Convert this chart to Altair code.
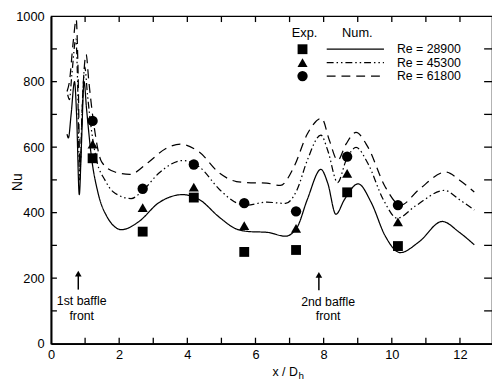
import altair as alt
import pandas as pd

FONT = "Liberation Sans"
SERIES = ["Re = 28900", "Re = 45300", "Re = 61800"]

# ---- experimental points ----
exp_x = [1.22, 2.69, 4.19, 5.67, 7.19, 8.69, 10.18]
exp_28900 = [566, 342, 446, 280, 286, 462, 298]
exp_45300 = [609, 415, 478, 360, 352, 520, 372]
exp_61800 = [680, 473, 547, 429, 404, 571, 423]

# ---- numerical curves ----
num_x_28900 = [0.47, 0.51, 0.59, 0.69, 0.75, 0.83, 0.89, 0.97, 1.04, 1.18, 1.38, 1.63, 2.07, 2.57, 3.16,
               3.86, 4.35, 4.95, 5.44, 5.84, 6.33, 6.88, 7.22, 7.52, 7.92, 8.12, 8.36, 8.61, 9.01, 9.40,
               9.80, 10.25, 10.79, 11.48, 11.98, 12.42]
num_y_28900 = [640, 628, 700, 800, 700, 455, 600, 800, 720, 575, 460, 390, 348, 372, 430,
               455, 440, 385, 350, 342, 340, 328, 355, 440, 532, 490, 395, 440, 488, 430,
               330, 278, 310, 373, 340, 302]

num_x_45300 = [0.49, 0.54, 0.61, 0.73, 0.78, 0.84, 0.91, 0.99, 1.07, 1.19, 1.34, 1.58, 1.83, 2.35, 2.67,
               3.16, 3.86, 4.35, 4.95, 5.44, 5.74, 6.33, 6.88, 7.22, 7.52, 7.92, 8.12, 8.41, 8.66, 8.95,
               9.30, 9.75, 10.16, 10.69, 11.55, 11.98, 12.42]
num_y_45300 = [760, 745, 820, 930, 800, 500, 700, 845, 760, 650, 559, 500, 463, 443, 465,
               520, 559, 540, 470, 430, 423, 432, 428, 470, 560, 637, 590, 492, 560, 599,
               550, 440, 383, 420, 468, 440, 408]

num_x_61800 = [0.47, 0.54, 0.65, 0.74, 0.79, 0.85, 0.93, 1.03, 1.11, 1.23, 1.49, 1.88, 2.31, 2.87, 3.36,
               3.80, 4.35, 4.95, 5.44, 5.74, 6.33, 6.73, 7.13, 7.52, 7.94, 8.17, 8.41, 8.66, 8.95, 9.30,
               9.80, 10.26, 10.79, 11.59, 11.98, 12.42]
num_y_61800 = [770, 800, 920, 990, 850, 530, 760, 883, 800, 690, 554, 524, 517, 555, 595,
               609, 585, 520, 495, 492, 490, 483, 540, 640, 688, 620, 560, 610, 645, 600,
               480, 423, 470, 524, 500, 463]

# ---- axes ----
x_labels = [0, 2, 4, 6, 8, 10, 12]
y_labels = [0, 200, 400, 600, 800, 1000]
x_minor = [1, 2, 3, 4, 5, 6, 7, 8, 9, 10, 11, 12]
y_minor = [100, 200, 300, 400, 500, 600, 700, 800, 900]

# ---- legend / annotations ----
leg_marker_x = 7.38
leg_line_x = [8.09, 9.77]
leg_text_x = 10.15
leg_rows = [899, 858, 817]
leg_head = [("Exp.", 7.44, 947), ("Num.", 8.99, 947)]
arrows = [(0.80, 165, 222), (7.86, 163, 218)]
notes = [("1st baffle", 0.90, 129), ("front", 0.90, 84),
         ("2nd baffle", 8.13, 126), ("front", 8.13, 84)]

W, H = 448, 332.7
XDOM = [0, 12.94]
YDOM = [0, 1000]

xs = alt.Scale(domain=XDOM, nice=False, zero=False)
ys = alt.Scale(domain=YDOM, nice=False)

dashes = {SERIES[0]: [1, 0], SERIES[1]: [7, 3, 1.5, 3, 1.5, 3], SERIES[2]: [9, 6]}

layers = []

# curves
curves = [(SERIES[0], num_x_28900, num_y_28900),
          (SERIES[1], num_x_45300, num_y_45300),
          (SERIES[2], num_x_61800, num_y_61800)]
for i, (name, cx, cy) in enumerate(curves):
    df = pd.DataFrame({"x": cx, "Nu": cy})
    enc = dict(
        x=alt.X("x:Q", scale=xs,
                axis=alt.Axis(values=x_labels, ticks=False, grid=False, domainWidth=2,
                              domainColor="black", labelFontSize=13, labelFont=FONT,
                              labelColor="black", labelPadding=5, labelFlush=False, title=None)),
        y=alt.Y("Nu:Q", scale=ys,
                axis=alt.Axis(values=y_labels, ticks=False, grid=False, domainWidth=2, format="d",
                              domainColor="black", labelFontSize=13, labelFont=FONT,
                              labelColor="black", labelPadding=7, title=None)),
    )
    line = alt.Chart(df).mark_line(color="black", strokeWidth=1.25, interpolate="monotone",
                                   strokeDash=dashes[name]).encode(**enc)
    layers.append(line)

# experimental points
pts = pd.DataFrame({
    "x": exp_x * 3,
    "Nu": exp_28900 + exp_45300 + exp_61800,
    "s": [SERIES[0]] * 7 + [SERIES[1]] * 7 + [SERIES[2]] * 7,
})
shape_scale = alt.Scale(domain=SERIES, range=["square", "triangle-up", "circle"])
size_scale = alt.Scale(domain=SERIES, range=[100, 110, 140])
layers.append(alt.Chart(pts).mark_point(filled=True, color="black", opacity=1).encode(
    x=alt.X("x:Q", scale=xs), y=alt.Y("Nu:Q", scale=ys),
    shape=alt.Shape("s:N", scale=shape_scale, legend=None),
    size=alt.Size("s:N", scale=size_scale, legend=None)))

# legend
leg_pts = pd.DataFrame({"x": [leg_marker_x] * 3, "Nu": leg_rows, "s": SERIES})
layers.append(alt.Chart(leg_pts).mark_point(filled=True, color="black", opacity=1).encode(
    x=alt.X("x:Q", scale=xs), y=alt.Y("Nu:Q", scale=ys),
    shape=alt.Shape("s:N", scale=shape_scale, legend=None),
    size=alt.Size("s:N", scale=size_scale, legend=None)))
for name, yv in zip(SERIES, leg_rows):
    ldf = pd.DataFrame({"x": leg_line_x, "Nu": [yv, yv]})
    layers.append(alt.Chart(ldf).mark_line(color="black", strokeWidth=1.25,
                                           strokeDash=dashes[name]).encode(
        x=alt.X("x:Q", scale=xs), y=alt.Y("Nu:Q", scale=ys)))
leg_txt = pd.DataFrame({"x": [leg_text_x] * 3, "Nu": leg_rows, "t": SERIES})
layers.append(alt.Chart(leg_txt).mark_text(align="left", baseline="middle", font=FONT,
                                           fontSize=12.5, color="black").encode(
    x=alt.X("x:Q", scale=xs), y=alt.Y("Nu:Q", scale=ys), text="t:N"))
head = pd.DataFrame({"t": [h[0] for h in leg_head], "x": [h[1] for h in leg_head],
                     "Nu": [h[2] for h in leg_head]})
layers.append(alt.Chart(head).mark_text(align="center", baseline="middle", font=FONT,
                                        fontSize=13, color="black").encode(
    x=alt.X("x:Q", scale=xs), y=alt.Y("Nu:Q", scale=ys), text="t:N"))

# annotations: arrows + text
arr = pd.DataFrame({"x": [a[0] for a in arrows], "y0": [a[1] for a in arrows],
                    "y1": [a[2] - 12 for a in arrows], "tip": [a[2] - 8 for a in arrows]})
layers.append(alt.Chart(arr).mark_rule(color="black", strokeWidth=1.5).encode(
    x=alt.X("x:Q", scale=xs), y=alt.Y("y0:Q", scale=ys), y2="y1:Q"))
layers.append(alt.Chart(arr).mark_point(shape="triangle-up", filled=True, color="black",
                                        opacity=1, size=45).encode(
    x=alt.X("x:Q", scale=xs), y=alt.Y("tip:Q", scale=ys)))
nt = pd.DataFrame({"t": [n[0] for n in notes], "x": [n[1] for n in notes],
                   "Nu": [n[2] for n in notes]})
layers.append(alt.Chart(nt).mark_text(align="center", baseline="middle", font=FONT,
                                      fontSize=12.5, color="black").encode(
    x=alt.X("x:Q", scale=xs), y=alt.Y("Nu:Q", scale=ys), text="t:N"))

# inward ticks
xt = pd.DataFrame({"x": x_minor})
yt = pd.DataFrame({"Nu": y_minor})
layers.append(alt.Chart(xt).mark_rule(color="black", strokeWidth=1.3).encode(
    x=alt.X("x:Q", scale=xs), y=alt.value(H), y2=alt.value(H - 6)))
layers.append(alt.Chart(xt).mark_rule(color="black", strokeWidth=1.3).encode(
    x=alt.X("x:Q", scale=xs), y=alt.value(0), y2=alt.value(6)))
layers.append(alt.Chart(yt).mark_rule(color="black", strokeWidth=1.3).encode(
    y=alt.Y("Nu:Q", scale=ys), x=alt.value(0), x2=alt.value(6)))
layers.append(alt.Chart(yt).mark_rule(color="black", strokeWidth=1.3).encode(
    y=alt.Y("Nu:Q", scale=ys), x=alt.value(W - 8), x2=alt.value(W)))

# axis titles
layers.append(alt.Chart(pd.DataFrame({"t": ["Nu"]})).mark_text(
    angle=270, align="center", baseline="middle", font=FONT, fontSize=14, color="black").encode(
    x=alt.value(-33.5), y=alt.value(168.7), text="t:N"))
layers.append(alt.Chart(pd.DataFrame({"t": ["x / D"]})).mark_text(
    align="left", baseline="alphabetic", font=FONT, fontSize=12.5, color="black").encode(
    x=alt.value(225), y=alt.value(365.7), text="t:N"))
layers.append(alt.Chart(pd.DataFrame({"t": ["h"]})).mark_text(
    align="left", baseline="alphabetic", font=FONT, fontSize=10, color="black").encode(
    x=alt.value(251.5), y=alt.value(368.7), text="t:N"))

chart = alt.layer(*layers).properties(
    width=W, height=H, autosize="none",
    padding={"left": 43.7, "top": 5.3, "right": 0, "bottom": 36},
    background="white",
).configure_view(stroke="black", strokeWidth=1.2)

chart.save("out.html", embed_options={"renderer": "svg", "actions": False})
